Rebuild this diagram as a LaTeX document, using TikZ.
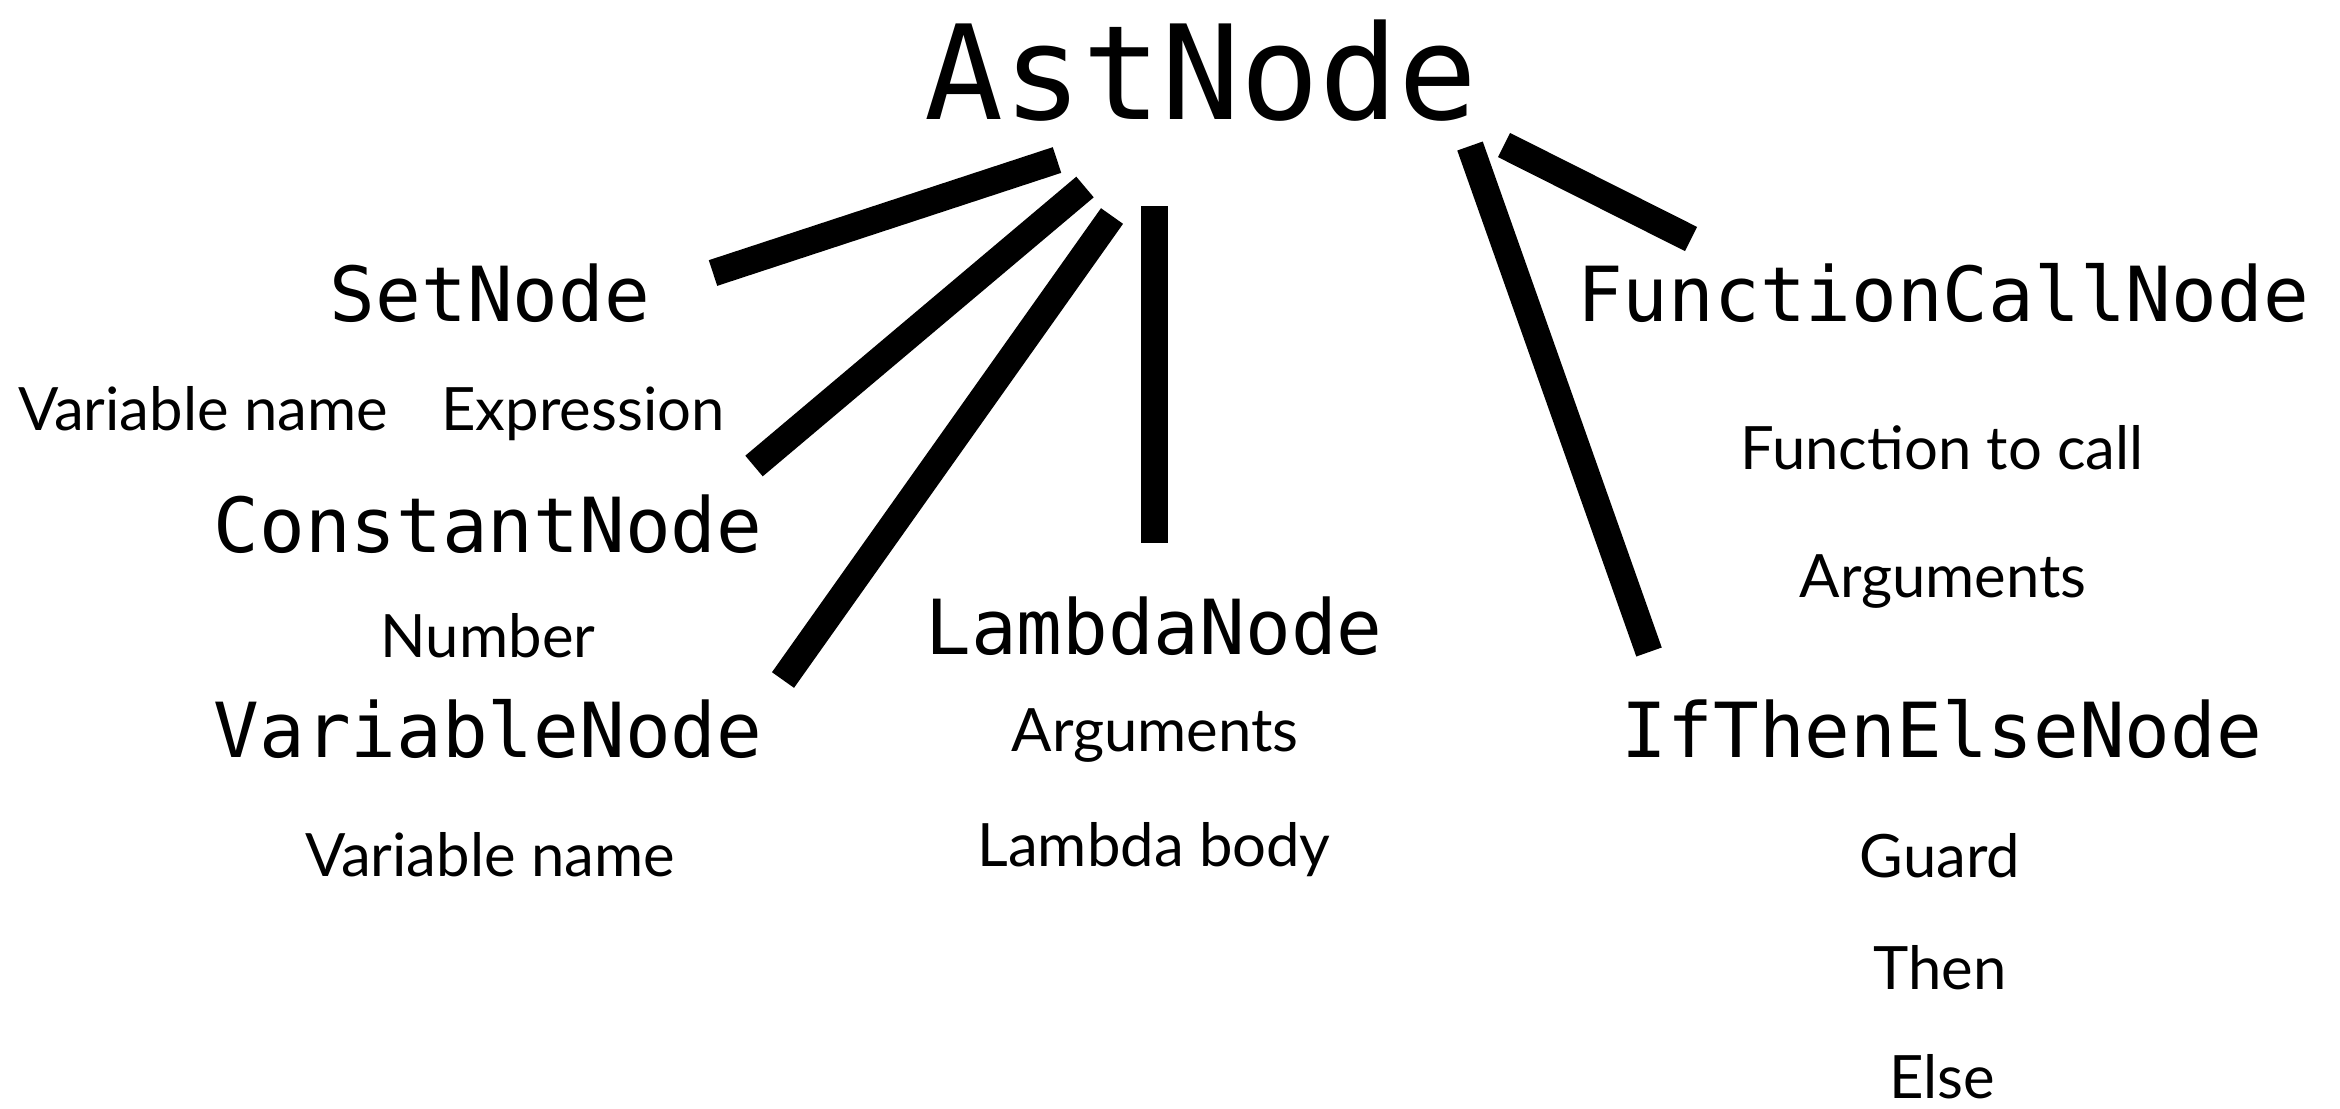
\documentclass[tikz,border=0pt]{standalone}
\usepackage{fontspec}
\newfontfamily\codefont{DejaVu Sans Mono}
\newfontfamily\fieldfont{Lato}

\begin{document}
\begin{tikzpicture}[x=0.01cm, y=-0.01cm,
		root_style/.style={anchor=base,inner sep=0,font=\codefont\fontsize{37.3}{40}\selectfont},
		class_style/.style={anchor=base,inner sep=0,font=\codefont\fontsize{21.6}{24}\selectfont},
		field_style/.style={anchor=base,inner sep=0,font=\fieldfont\fontsize{17}{20}\selectfont},
		edge_style/.style={draw=black,line width=0.27cm}]

		\useasboundingbox (0,0) rectangle (2340,1108);

		% class names
		\node[root_style] (ast) at (1201,119) {AstNode};
		\node[class_style] (set) at (490,321) {SetNode};
		\node[class_style] (fcall) at (1943,321) {FunctionCallNode};
		\node[class_style] (const) at (488,552) {ConstantNode};
		\node[class_style] (lambda) at (1154,654) {LambdaNode};
		\node[class_style] (var) at (488,757) {VariableNode};
		\node[class_style] (ite) at (1942,757) {IfThenElseNode};

		% fields
		\node[field_style] (set_name) at (203,430) {Variable name};
		\node[field_style] (set_expr) at (583,430) {Expression};
		\node[field_style] (const_num) at (488,657) {Number};
		\node[field_style] (var_name) at (490,876) {Variable name};
		\node[field_style] (lambda_args) at (1155,751) {Arguments};
		\node[field_style] (lambda_body) at (1154,866) {Lambda body};
		\node[field_style] (fcall_fun) at (1942,469) {Function to call};
		\node[field_style] (fcall_args) at (1943,597) {Arguments};
		\node[field_style] (ite_guard) at (1940,877) {Guard};
		\node[field_style] (ite_then) at (1940,989) {Then};
		\node[field_style] (ite_else) at (1942,1098) {Else};

		% line ends
		\coordinate (ast_set) at (1057,160);
		\coordinate (set_top) at (713,273);
		\coordinate (ast_const) at (1085,187);
		\coordinate (const_top) at (754,466);
		\coordinate (ast_var) at (1112,216);
		\coordinate (var_top) at (783,680);
		\coordinate (ast_lambda) at (1154,206);
		\coordinate (lambda_top) at (1154,543);
		\coordinate (ast_ite) at (1470,146);
		\coordinate (ite_top) at (1649,652);
		\coordinate (ast_fcall) at (1504,145);
		\coordinate (fcall_top) at (1691,239);

		\draw[edge_style] (ast_set) -- (set_top);
		\draw[edge_style] (ast_const) -- (const_top);
		\draw[edge_style] (ast_var) -- (var_top);
		\draw[edge_style] (ast_lambda) -- (lambda_top);
		\draw[edge_style] (ast_ite) -- (ite_top);
		\draw[edge_style] (ast_fcall) -- (fcall_top);

\end{tikzpicture}
\end{document}
